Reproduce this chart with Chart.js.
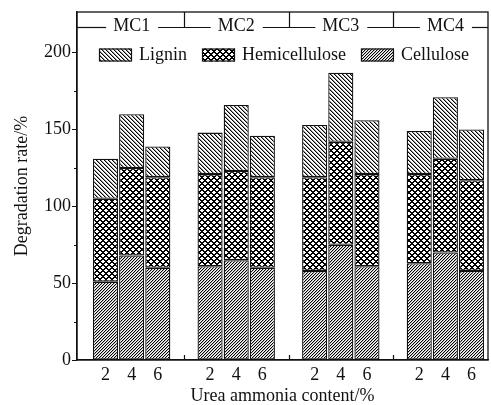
<!DOCTYPE html>
<html>
<head>
<meta charset="utf-8">
<script src="https://cdn.jsdelivr.net/npm/chart.js@4"></script>
<style>
  html, body { margin: 0; padding: 0; background: #fff; }
  #wrap { width: 491px; height: 405px; }
</style>
</head>
<body>
<div id="wrap"><canvas id="chart" width="491" height="405"></canvas></div>
<script>
// Moisture content groups and urea ammonia content per bar
const groups = ['MC1', 'MC2', 'MC3', 'MC4'];
const contents = ['2', '4', '6'];

// Degradation rate (%) per component, ordered MC1(2,4,6), MC2(2,4,6), ...
const cellulose     = [51, 68, 60, 61, 65, 60, 58, 75, 61, 63, 70, 58];
const hemicellulose = [54, 57, 59, 60, 58, 59, 61, 67, 60, 58, 61, 59];
const lignin        = [26, 35, 20, 27, 43, 27, 34, 45, 35, 28, 40, 33];

const yTicks = [0, 50, 100, 150, 200];
const yMinorTicks = [25, 75, 125, 175];

const FONT = "'Liberation Serif', 'Times New Roman', serif";
const INK = '#111';

/**
 * Builds a crisp pixel hatch pattern.
 * shade(x, y) returns 0 (black) .. 255 (white) for each pixel of the tile
 */
function pixelPattern(size, shade) {
    const c = document.createElement('canvas');
    c.width = c.height = size;
    const g = c.getContext('2d');
    const img = g.createImageData(size, size);
    for (let y = 0; y < size; y++) {
        for (let x = 0; x < size; x++) {
            const v = shade(x, y);
            const p = (y * size + x) * 4;
            img.data[p] = img.data[p + 1] = img.data[p + 2] = v;
            img.data[p + 3] = 255;
        }
    }
    g.putImageData(img, 0, 0);
    return g.createPattern(c, 'repeat');
}

const mod = (a, n) => ((a % n) + n) % n;

// Lignin: "\\\" lines, Hemicellulose: cross hatch, Cellulose: "///" fine lines
const ligninFill = pixelPattern(4, (x, y) => {
    const k = mod(x - y, 4);
    return k === 0 ? 0 : (k === 1 ? 150 : 255);
});
const hemiFill = pixelPattern(6, (x, y) => {
    const a = mod(x - y, 6), b = mod(x + y, 6);
    return (a <= 1 || b <= 1) ? 0 : 255;
});
const celluloseFill = pixelPattern(3, (x, y) => {
    const k = mod(x + y, 3);
    return k === 0 ? 0 : (k === 1 ? 185 : 255);
});

// slot of each bar on the x axis: 3 bars per group, one empty slot between groups
const slotOf = (g, i) => g * 4 + i;
const positions = [];
groups.forEach((g, gi) => contents.forEach((c, ci) => positions.push(slotOf(gi, ci))));
const toPoints = arr => arr.map((v, k) => ({ x: positions[k], y: v }));

// Frame, MC header row, legend and extra ticks
const decorations = {
    id: 'decorations',
    afterDraw(chart) {
        const ctx = chart.ctx;
        const { left, right, top, bottom } = chart.chartArea;
        const xs = chart.scales.x;
        const ys = chart.scales.y;
        ctx.save();
        ctx.strokeStyle = INK;
        ctx.fillStyle = INK;

        // frame
        ctx.lineWidth = 1.3;
        ctx.strokeRect(left, top, right - left, bottom - top);

        // minor y ticks (outward)
        ctx.lineWidth = 1;
        yMinorTicks.forEach(v => {
            const y = Math.round(ys.getPixelForValue(v)) + 0.5;
            ctx.beginPath();
            ctx.moveTo(left - 3, y);
            ctx.lineTo(left, y);
            ctx.stroke();
        });

        // group dividers: header and bottom ticks
        const headerY = top + 15;
        ctx.lineWidth = 1.2;
        for (let gi = 1; gi < groups.length; gi++) {
            const x = Math.round(xs.getPixelForValue(slotOf(gi, 0) - 1)) + 0.5;
            ctx.beginPath();
            ctx.moveTo(x, top);
            ctx.lineTo(x, headerY);
            ctx.moveTo(x, bottom);
            ctx.lineTo(x, bottom - 5);
            ctx.stroke();
        }

        // header line broken by group labels
        ctx.font = '18px ' + FONT;
        ctx.textAlign = 'center';
        ctx.textBaseline = 'middle';
        let lineStart = left;
        groups.forEach((g, gi) => {
            const cx = xs.getPixelForValue(slotOf(gi, 1));
            const w = ctx.measureText(g).width;
            ctx.beginPath();
            ctx.moveTo(lineStart, headerY + 0.5);
            ctx.lineTo(cx - w / 2 - 7, headerY + 0.5);
            ctx.stroke();
            ctx.fillText(g, cx, headerY - 1);
            lineStart = cx + w / 2 + 8;
        });
        ctx.beginPath();
        ctx.moveTo(lineStart, headerY + 0.5);
        ctx.lineTo(right, headerY + 0.5);
        ctx.stroke();

        // legend
        const items = ['Lignin', 'Hemicellulose', 'Cellulose'].map(label => {
            const ds = chart.data.datasets.find(d => d.label === label);
            return { label, fill: ds.backgroundColor };
        });
        let lx = left + 22;
        const ly = 55;
        ctx.textAlign = 'left';
        items.forEach(it => {
            ctx.fillStyle = it.fill;
            ctx.fillRect(lx, ly - 6.5, 33, 13);
            ctx.lineWidth = 1.2;
            ctx.strokeRect(lx + 0.5, ly - 6, 32, 12);
            ctx.fillStyle = INK;
            ctx.fillText(it.label, lx + 40, ly);
            lx += 40 + ctx.measureText(it.label).width + 15;
        });

        ctx.restore();
    }
};

const barStyle = {
    borderColor: INK,
    borderWidth: 1.3,
    borderSkipped: false,
    categoryPercentage: 1.0,
    barPercentage: 0.96
};

new Chart(document.getElementById('chart'), {
    type: 'bar',
    data: {
        datasets: [
            Object.assign({ label: 'Cellulose', data: toPoints(cellulose), backgroundColor: celluloseFill }, barStyle),
            Object.assign({ label: 'Hemicellulose', data: toPoints(hemicellulose), backgroundColor: hemiFill }, barStyle),
            Object.assign({ label: 'Lignin', data: toPoints(lignin), backgroundColor: ligninFill }, barStyle)
        ]
    },
    options: {
        responsive: false,
        animation: false,
        layout: { padding: { top: 12, right: 3, left: 0, bottom: 0 } },
        plugins: {
            legend: { display: false },
            tooltip: { enabled: false }
        },
        scales: {
            x: {
                type: 'linear',
                stacked: true,
                offset: false,
                min: -1.09,
                max: 14.63,
                afterBuildTicks: scale => {
                    scale.ticks = positions.map(v => ({ value: v }));
                },
                afterFit: scale => { scale.height = 45; },
                ticks: {
                    autoSkip: false,
                    maxRotation: 0,
                    padding: 4,
                    color: INK,
                    font: { family: FONT, size: 18 },
                    callback: value => contents[value % 4] || ''
                },
                grid: { display: true, drawOnChartArea: false, drawTicks: false },
                border: { display: true, color: INK, width: 1.3 },
                title: {
                    display: true,
                    text: 'Urea ammonia content/%',
                    color: INK,
                    font: { family: FONT, size: 18, lineHeight: 1 },
                    padding: { top: 0, bottom: 0 }
                }
            },
            y: {
                stacked: true,
                min: 0,
                max: 226.5,
                afterBuildTicks: scale => {
                    scale.ticks = yTicks.map(v => ({ value: v }));
                },
                afterFit: scale => { scale.width = 77; },
                ticks: {
                    includeBounds: false,
                    padding: 1,
                    color: INK,
                    font: { family: FONT, size: 18 }
                },
                grid: { drawOnChartArea: false, tickLength: 5, tickColor: INK, tickWidth: 1 },
                border: { display: true, color: INK, width: 1.3 },
                title: {
                    display: true,
                    text: 'Degradation rate/%',
                    color: INK,
                    font: { family: FONT, size: 18 },
                    padding: { top: 11, bottom: 0 }
                }
            }
        }
    },
    plugins: [decorations]
});
</script>
</body>
</html>
